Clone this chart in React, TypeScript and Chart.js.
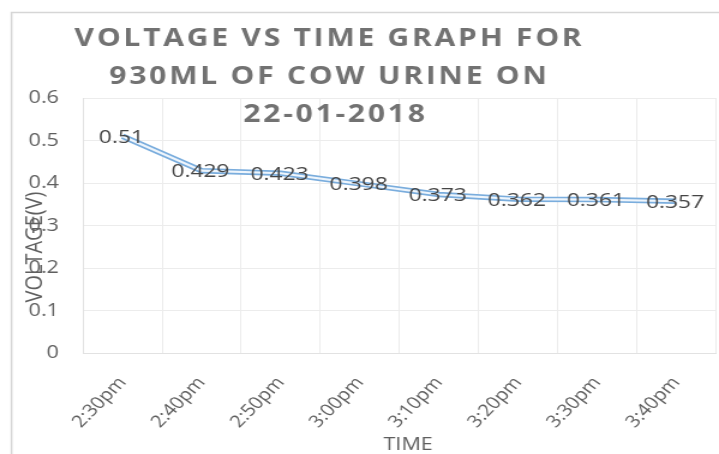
import React, { useEffect, useRef } from 'react';
import { Chart, registerables } from 'chart.js';

Chart.register(...registerables);

const categories = ['2:30pm', '2:40pm', '2:50pm', '3:00pm', '3:10pm', '3:20pm', '3:30pm', '3:40pm'];
const voltage = [0.51, 0.429, 0.423, 0.398, 0.373, 0.362, 0.361, 0.357];
const titleLines = ['VOLTAGE VS TIME GRAPH FOR', '930ML OF COW URINE ON', '22-01-2018'];
const yMin = 0;
const yMax = 0.6;
const yStep = 0.1;
const xTitle = 'TIME';
const yTitle = 'VOLTAGE(V)';

const FONT = '"Open Sans", "DejaVu Sans", sans-serif';
// the reference picture is stretched horizontally; draw narrower and stretch with CSS
const SX = 1.2;
const W = 719;
const H = 454;
const CW = Math.round(W / SX);

const decor = {
  id: 'decor',
  beforeDraw(chart: any) {
    const ctx = chart.ctx;
    ctx.save();
    ctx.fillStyle = '#ffffff';
    ctx.fillRect(0, 0, chart.width, chart.height);
    ctx.strokeStyle = '#d6d6d6';
    ctx.lineWidth = 1.5;
    ctx.beginPath();
    ctx.moveTo(11.5 / SX, chart.height);
    ctx.lineTo(11.5 / SX, 12.5);
    ctx.lineTo(chart.width, 12.5);
    ctx.stroke();
    ctx.restore();
  },
  afterDatasetsDraw(chart: any) {
    const ctx = chart.ctx;
    const meta = chart.getDatasetMeta(0);
    ctx.save();
    ctx.font = `19px ${FONT}`;
    ctx.fillStyle = '#454545';
    ctx.textAlign = 'center';
    ctx.textBaseline = 'middle';
    meta.data.forEach((pt: any, i: number) => {
      ctx.fillText(String(voltage[i]), pt.x - 1, pt.y + 1);
    });
    ctx.restore();
  },
  afterDraw(chart: any) {
    const ctx = chart.ctx;
    ctx.save();
    // main title
    ctx.font = `bold 25px ${FONT}`;
    ctx.fillStyle = '#727272';
    ctx.textAlign = 'left';
    ctx.textBaseline = 'alphabetic';
    const target = 507 / SX;
    (ctx as any).letterSpacing = '0px';
    const w0 = ctx.measureText(titleLines[0]).width;
    const ls = (target - w0) / (titleLines[0].length - 1);
    (ctx as any).letterSpacing = `${ls}px`;
    const centers = [328, 328, 334];
    const baselines = [46, 84, 122];
    titleLines.forEach((line, i) => {
      const w = ctx.measureText(line).width - ls;
      ctx.fillText(line, centers[i] / SX - w / 2, baselines[i]);
    });
    (ctx as any).letterSpacing = '0px';
    // axis titles
    ctx.fillStyle = '#5f5f5f';
    ctx.textAlign = 'center';
    ctx.textBaseline = 'middle';
    ctx.font = `18px ${FONT}`;
    ctx.fillText(xTitle, 408 / SX, 445);
    ctx.font = `20px ${FONT}`;
    ctx.translate(35 / SX, 247);
    ctx.rotate(-Math.PI / 2);
    ctx.fillText(yTitle, 0, 0);
    ctx.restore();
  },
};

export default function App() {
  const ref = useRef<HTMLCanvasElement>(null);
  useEffect(() => {
    if (!ref.current) return;
    const chart = new Chart(ref.current, {
      type: 'line',
      data: {
        labels: categories,
        datasets: [
          {
            data: voltage,
            borderColor: '#eef5fc',
            borderWidth: 2.2,
            pointRadius: 0,
            tension: 0,
            fill: false,
            order: 0,
          },
          {
            data: voltage,
            borderColor: '#7aaddd',
            borderWidth: 5.5,
            pointRadius: 0,
            tension: 0,
            fill: false,
            order: 1,
          },
        ],
      },
      options: {
        responsive: false,
        animation: false,
        layout: { padding: { left: 0, top: 98, right: 0, bottom: 0 } },
        plugins: {
          legend: { display: false },
          title: { display: false },
          tooltip: { enabled: false },
        },
        scales: {
          x: {
            type: 'category',
            offset: true,
            grid: { offset: true, color: '#ececec', drawTicks: false },
            border: { color: '#e2e2e2' },
            ticks: {
              autoSkip: false,
              maxRotation: 50,
              minRotation: 50,
              padding: 20,
              color: '#5f5f5f',
              font: { family: FONT, size: 17 },
            },
            afterFit: (s: any) => {
              s.height = 101;
            },
          },
          y: {
            min: yMin,
            max: yMax,
            grid: { color: '#ececec', drawTicks: false },
            border: { color: '#e2e2e2' },
            ticks: {
              stepSize: yStep,
              padding: 24 / SX,
              color: '#5f5f5f',
              font: { family: FONT, size: 18 },
            },
            afterFit: (s: any) => {
              s.width = 83 / SX;
            },
          },
        },
      },
      plugins: [decor],
    });
    return () => chart.destroy();
  }, []);
  return (
    <div style={{ position: 'absolute', left: 0, top: 0, width: W, height: H }}>
      <canvas
        ref={ref}
        width={CW}
        height={H}
        style={{ width: W, height: H, display: 'block' }}
      />
    </div>
  );
}
